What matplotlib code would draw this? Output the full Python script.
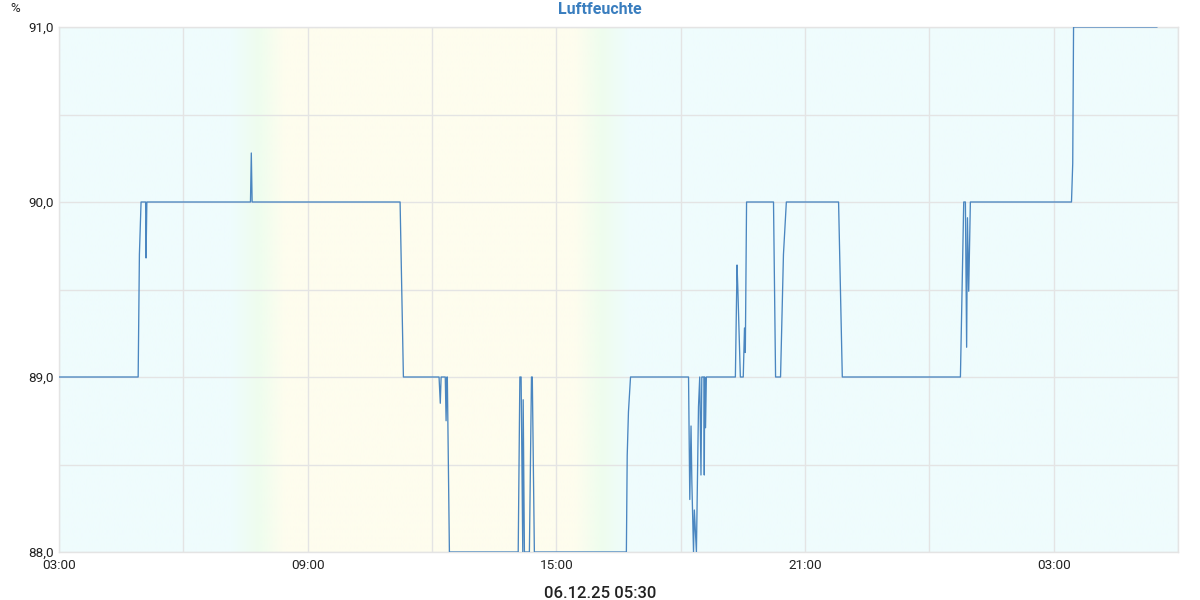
import numpy as np
import matplotlib
matplotlib.use("Agg")
import matplotlib.pyplot as plt

# hours since 03:00 (06.12.25)
hours = [0.00, 1.91, 1.94, 1.98, 2.09, 2.10, 2.12, 4.62, 4.64, 4.66,
         8.23, 8.31, 9.17, 9.20, 9.22, 9.32, 9.34, 9.36, 9.37, 9.42,
         11.08, 11.12, 11.15, 11.19, 11.20, 11.23, 11.35, 11.40, 11.42, 11.47,
         13.69, 13.71, 13.74, 13.79, 15.19, 15.22, 15.25, 15.27, 15.31, 15.33,
         15.38, 15.43, 15.46, 15.49, 15.51, 15.56, 15.57, 15.58, 15.60, 15.62,
         16.32, 16.36, 16.38, 16.44, 16.51, 16.54, 16.56, 16.59, 17.24, 17.29,
         17.41, 17.48, 17.55, 18.81, 18.90, 21.75, 21.83, 21.87, 21.90, 21.92,
         21.95, 21.99, 24.43, 24.46, 24.48, 26.49]
humidity = [89.0, 89.0, 89.7, 90.0, 90.0, 89.68, 90.0, 90.0, 90.28, 90.0,
            90.0, 89.0, 89.0, 88.85, 89.0, 89.0, 88.75, 89.0, 89.0, 88.0,
            88.0, 89.0, 89.0, 88.0, 88.87, 88.0, 88.0, 89.0, 89.0, 88.0,
            88.0, 88.55, 88.8, 89.0, 89.0, 88.3, 88.72, 88.4, 88.0, 88.24,
            88.0, 88.83, 89.0, 88.44, 89.0, 89.0, 88.44, 89.0, 88.71, 89.0,
            89.0, 89.64, 89.5, 89.0, 89.0, 89.28, 89.14, 90.0, 90.0, 89.0,
            89.0, 89.7, 90.0, 90.0, 89.0, 89.0, 90.0, 90.0, 89.17, 89.91,
            89.49, 90.0, 90.0, 90.22, 91.0, 91.0]

x_ticks = [0, 6, 12, 18, 24]
x_tick_labels = ["03:00", "09:00", "15:00", "21:00", "03:00"]
y_ticks = [88, 89, 90, 91]
y_tick_labels = ["88,0", "89,0", "90,0", "91,0"]
title = "Luftfeuchte"
footer = "06.12.25 05:30"
unit = "%"

plt.rcParams['font.family'] = ['Roboto', 'DejaVu Sans']

fig = plt.figure(figsize=(12, 6), dpi=100)
ax = fig.add_axes([59/1200, 48/600, (1178-59)/1200, (552-27)/600])

# day/night background gradient
cyan = np.array([239, 252, 253]) / 255
green = np.array([238, 253, 238]) / 255
yellow = np.array([254, 253, 238]) / 255
stops_t = [0, 4.15, 4.8, 5.45, 12.45, 13.1, 13.75, 27]
stops_c = [cyan, cyan, green, yellow, yellow, green, cyan, cyan]
tt = np.linspace(0, 27, 1200)
img = np.zeros((1, len(tt), 3))
for c in range(3):
    img[0, :, c] = np.interp(tt, stops_t, [s[c] for s in stops_c])
ax.imshow(img, extent=[0, 27, 88, 91], aspect='auto', interpolation='bilinear', zorder=0)

ax.set_xlim(0, 27)
ax.set_ylim(88, 91)
ax.set_xticks(x_ticks)
ax.set_xticklabels(x_tick_labels)
ax.set_xticks(np.arange(0, 27.01, 3), minor=True)
ax.set_yticks(y_ticks)
ax.set_yticklabels(y_tick_labels)
ax.set_yticks(np.arange(88, 91.01, 0.5), minor=True)
ax.grid(True, which='both', color='#e4e4e4', linewidth=1, zorder=1)
ax.set_axisbelow(False)
ax.tick_params(axis='both', which='both', length=0, labelsize=9.7, labelcolor='#222222')
ax.tick_params(axis='x', pad=5)
ax.tick_params(axis='y', pad=4)
for s in ax.spines.values():
    s.set_color('#e4e4e4')
    s.set_linewidth(1)

ax.plot(hours, humidity, color='#4a86c0', linewidth=0.95, zorder=3)

fig.text(0.5, 1 - 10/600, title, ha='center', va='center', fontsize=11.5,
         fontweight='bold', color='#3a7ebf')
fig.text(15/1200, 1 - 9/600, unit, ha='center', va='center', fontsize=9.5, color='#222222')
fig.text(0.5, 1 - 593/600, footer, ha='center', va='center', fontsize=12,
         fontweight='medium', color='#222222')

fig.savefig("out.png", dpi=100)
